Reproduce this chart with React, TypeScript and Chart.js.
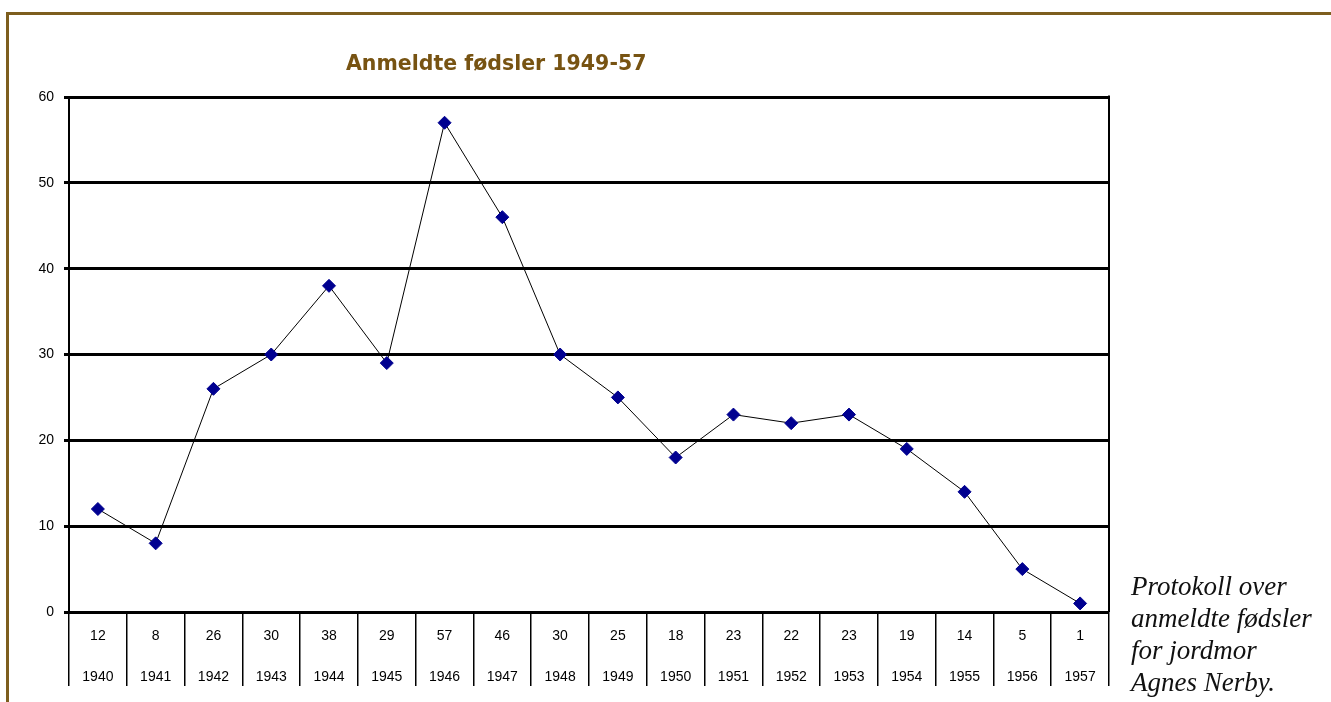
import React, { useEffect, useRef } from "react";
import { Chart, registerables } from "chart.js";

Chart.register(...registerables);

const years = ["1940","1941","1942","1943","1944","1945","1946","1947","1948","1949","1950","1951","1952","1953","1954","1955","1956","1957"];
const births = [12, 8, 26, 30, 38, 29, 57, 46, 30, 25, 18, 23, 22, 23, 19, 14, 5, 1];
const yTicks = [0, 10, 20, 30, 40, 50, 60];
const titleText = "Anmeldte fødsler 1949-57";
const noteLines = ["Protokoll over", "anmeldte fødsler", "for jordmor", "Agnes Nerby."];

const W = 1331;
const H = 702;

const tablePlugin = {
  id: "dataTable",
  afterDraw(chart: any) {
    const ctx = chart.ctx;
    const xs = chart.scales.x;
    const area = chart.chartArea;
    ctx.save();
    // right border of plot area
    ctx.strokeStyle = "#000";
    ctx.lineWidth = 2;
    ctx.beginPath();
    ctx.moveTo(area.right, area.top - 1.5);
    ctx.lineTo(area.right, area.bottom);
    ctx.stroke();
    ctx.fillStyle = "#000";
    ctx.font = "14px 'Liberation Sans', Arial, sans-serif";
    ctx.textAlign = "center";
    ctx.textBaseline = "middle";
    for (let i = 0; i < years.length; i++) {
      const x = xs.getPixelForValue(i);
      ctx.fillText(String(births[i]), x, xs.top + 24);
      ctx.fillText(years[i], x, xs.top + 65);
    }
    ctx.restore();
  },
};

export default function App() {
  const ref = useRef<HTMLCanvasElement | null>(null);
  useEffect(() => {
    if (!ref.current) return;
    const chart = new Chart(ref.current, {
      type: "line",
      data: {
        labels: years,
        datasets: [
          {
            data: births,
            borderColor: "#000",
            borderWidth: 1,
            pointStyle: "rectRot",
            pointRadius: 6.5,
            pointBorderWidth: 1,
            pointBackgroundColor: "#000090",
            pointBorderColor: "#000090",
            tension: 0,
          },
        ],
      },
      options: {
        responsive: false,
        animation: false,
        layout: { padding: { left: 0, right: 222, top: 97, bottom: 16 } },
        plugins: {
          legend: { display: false },
          tooltip: { enabled: false },
          title: { display: false },
        },
        scales: {
          x: {
            type: "category",
            offset: true,
            grid: {
              display: true,
              offset: true,
              drawOnChartArea: false,
              drawTicks: true,
              tickLength: 74,
              color: "#000",
              lineWidth: 1.5,
            },
            border: { display: true, color: "#000", width: 2 },
            ticks: { display: false },
          },
          y: {
            min: 0,
            max: 60,
            afterFit: (scale: any) => {
              scale.width = 69;
            },
            afterBuildTicks: (scale: any) => {
              scale.ticks = yTicks.map((v) => ({ value: v }));
            },
            grid: {
              color: "#000",
              lineWidth: 3,
              tickLength: 5,
            },
            border: { display: true, color: "#000", width: 2 },
            ticks: {
              color: "#000",
              padding: 10,
              font: { family: "'Liberation Sans', Arial, sans-serif", size: 14 },
            },
          },
        },
      },
      plugins: [tablePlugin],
    });
    return () => chart.destroy();
  }, []);

  return (
    <div style={{ position: "absolute", left: 0, top: 0, width: W, height: H, background: "#fff", overflow: "hidden" }}>
      <div
        style={{
          position: "absolute",
          left: 6,
          top: 12,
          width: W,
          height: H,
          borderTop: "3px solid #7d5e1e",
          borderLeft: "3px solid #7d5e1e",
        }}
      />
      <canvas ref={ref} width={W} height={H} style={{ position: "absolute", left: 0, top: 0, width: W, height: H }} />
      <div
        style={{
          position: "absolute",
          left: 346,
          top: 51,
          fontFamily: "'DejaVu Sans', Verdana, sans-serif",
          fontWeight: "bold",
          fontSize: 20.5,
          lineHeight: "24px",
          color: "#775312",
          whiteSpace: "nowrap",
        }}
      >
        {titleText}
      </div>
      <div
        style={{
          position: "absolute",
          left: 1131,
          top: 570,
          fontFamily: "'Liberation Serif', 'Times New Roman', serif",
          fontStyle: "italic",
          fontSize: 27,
          lineHeight: "32px",
          color: "#111",
          whiteSpace: "nowrap",
        }}
      >
        {noteLines.map((l, i) => (
          <div key={i}>{l}</div>
        ))}
      </div>
    </div>
  );
}
